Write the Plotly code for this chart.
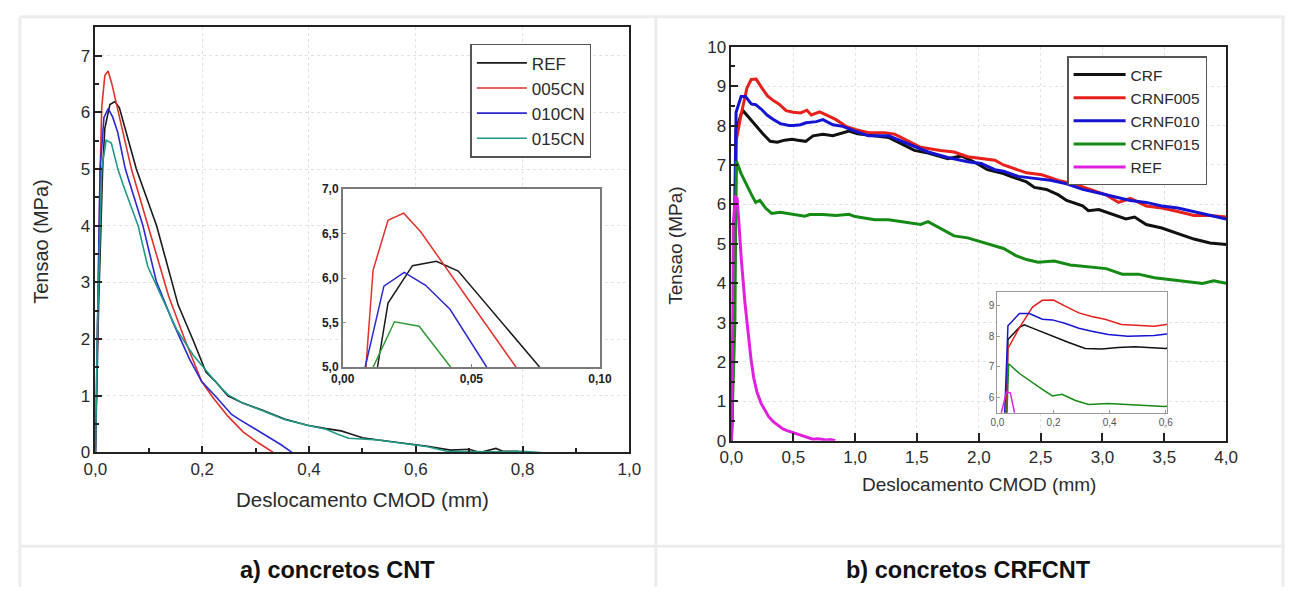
import plotly.graph_objects as go

W, H = 1297, 597

# ---------------- Panel a) concretos CNT ----------------
ref_a_x = [0, 0.006, 0.0135, 0.0176, 0.0271, 0.0364, 0.0449, 0.0766, 0.1146, 0.135, 0.155, 0.183, 0.207,
           0.225, 0.248, 0.276, 0.312, 0.354, 0.397, 0.432, 0.46, 0.474, 0.50, 0.53, 0.587, 0.622, 0.665,
           0.70, 0.72, 0.75, 0.763, 0.79, 0.80]
ref_a_y = [0, 2.6, 5.0, 5.72, 6.14, 6.19, 6.08, 5.0, 4.0, 3.3, 2.6, 1.98, 1.42,
           1.25, 1.0, 0.87, 0.75, 0.59, 0.48, 0.42, 0.38, 0.34, 0.26, 0.22, 0.15, 0.11, 0.04,
           0.055, 0.0, 0.07, 0.02, 0.02, 0.0]

cn005_x = [0, 0.004, 0.009, 0.0118, 0.0176, 0.0237, 0.0303, 0.0674, 0.098, 0.118, 0.137, 0.168, 0.199,
           0.22, 0.248, 0.277, 0.305, 0.333]
cn005_y = [0, 2.4, 5.0, 6.09, 6.65, 6.73, 6.52, 5.0, 4.0, 3.35, 2.76, 1.98, 1.25,
           0.97, 0.64, 0.36, 0.17, 0.0]

cn010_x = [0, 0.004, 0.0087, 0.016, 0.0239, 0.0322, 0.0417, 0.056, 0.089, 0.114, 0.145, 0.176, 0.199,
           0.227, 0.255, 0.27, 0.298, 0.326, 0.347, 0.368]
cn010_y = [0, 2.5, 5.0, 5.91, 6.065, 5.92, 5.65, 5.0, 4.0, 3.02, 2.30, 1.65, 1.25,
           0.97, 0.67, 0.58, 0.42, 0.25, 0.14, 0.0]

cn015_x = [0, 0.004, 0.0118, 0.0201, 0.0297, 0.042, 0.052, 0.08, 0.098, 0.129, 0.152, 0.183, 0.207,
           0.23, 0.248, 0.276, 0.312, 0.354, 0.397, 0.432, 0.454, 0.474, 0.53, 0.587, 0.622, 0.658,
           0.70, 0.75, 0.80, 0.834]
cn015_y = [0, 2.3, 5.0, 5.51, 5.46, 5.0, 4.72, 4.0, 3.28, 2.63, 2.17, 1.72, 1.45,
           1.19, 1.02, 0.87, 0.74, 0.58, 0.48, 0.41, 0.32, 0.25, 0.22, 0.14, 0.10, 0.02,
           0.01, 0.01, 0.02, 0.0]

# ---------------- Panel b) concretos CRFCNT ----------------
crf_x = [0, 0.015, 0.032, 0.0375, 0.0785, 0.096, 0.125, 0.196, 0.254, 0.313, 0.371, 0.43, 0.489, 0.536,
         0.60, 0.66, 0.74, 0.82, 0.90, 0.95, 1.02, 1.16, 1.27, 1.38, 1.48, 1.59, 1.70, 1.75, 1.86, 1.96,
         2.07, 2.2, 2.257, 2.386, 2.45, 2.547, 2.644, 2.71, 2.84, 2.886, 2.97, 3.1, 3.19, 3.26, 3.354,
         3.48, 3.61, 3.74, 3.87, 4.0]
crf_y = [0, 3.0, 5.5, 7.89, 8.29, 8.37, 8.26, 8.0, 7.79, 7.6, 7.58, 7.63, 7.65, 7.63,
         7.6, 7.74, 7.78, 7.74, 7.82, 7.86, 7.79, 7.74, 7.70, 7.53, 7.37, 7.30, 7.21, 7.16, 7.23, 7.08,
         6.88, 6.78, 6.71, 6.57, 6.43, 6.38, 6.24, 6.10, 5.96, 5.84, 5.87, 5.72, 5.63, 5.68, 5.49,
         5.40, 5.26, 5.12, 5.02, 4.98]

crnf005_x = [0, 0.015, 0.032, 0.0375, 0.0785, 0.125, 0.16, 0.2, 0.243, 0.29, 0.336, 0.383, 0.442, 0.5,
             0.559, 0.61, 0.646, 0.713, 0.766, 0.846, 0.926, 1.0, 1.11, 1.24, 1.32, 1.43, 1.53, 1.69,
             1.80, 1.91, 2.02, 2.13, 2.2, 2.257, 2.386, 2.51, 2.644, 2.77, 2.9, 3.03, 3.13, 3.225,
             3.354, 3.48, 3.61, 3.74, 3.87, 4.0]
crnf005_y = [0, 3.0, 5.5, 7.6, 8.28, 8.95, 9.17, 9.18, 8.97, 8.76, 8.64, 8.55, 8.38, 8.34,
             8.32, 8.39, 8.27, 8.35, 8.27, 8.15, 7.98, 7.9, 7.82, 7.82, 7.78, 7.61, 7.45, 7.37,
             7.33, 7.21, 7.16, 7.12, 7.0, 6.94, 6.80, 6.75, 6.61, 6.52, 6.38, 6.24, 6.05, 6.15,
             5.96, 5.91, 5.82, 5.72, 5.72, 5.68]

crnf010_x = [0, 0.012, 0.026, 0.0375, 0.0785, 0.114, 0.16, 0.196, 0.24, 0.29, 0.336, 0.395, 0.465, 0.5,
             0.559, 0.603, 0.686, 0.74, 0.82, 0.9, 1.0, 1.11, 1.27, 1.43, 1.59, 1.75, 1.91, 2.02, 2.13,
             2.2, 2.32, 2.45, 2.58, 2.71, 2.84, 2.97, 3.1, 3.225, 3.354, 3.48, 3.61, 3.74, 3.87, 4.0]
crnf010_y = [0, 3.0, 5.5, 8.34, 8.74, 8.74, 8.55, 8.53, 8.42, 8.26, 8.16, 8.05, 8.0, 8.0,
             8.02, 8.07, 8.1, 8.15, 8.02, 7.98, 7.86, 7.74, 7.74, 7.53, 7.33, 7.19, 7.08, 7.04, 6.88,
             6.84, 6.71, 6.66, 6.61, 6.52, 6.38, 6.29, 6.19, 6.10, 6.05, 5.96, 5.91, 5.82, 5.72, 5.63]

crnf015_x = [0, 0.028, 0.034, 0.04, 0.0785, 0.125, 0.16, 0.196, 0.23, 0.278, 0.325, 0.395, 0.465, 0.547,
             0.594, 0.633, 0.74, 0.846, 0.95, 1.0, 1.16, 1.27, 1.43, 1.53, 1.59, 1.70, 1.80, 1.91, 2.07,
             2.2, 2.3, 2.386, 2.48, 2.61, 2.74, 2.9, 3.03, 3.16, 3.29, 3.42, 3.55, 3.68, 3.81, 3.9, 4.0]
crnf015_y = [0, 3.0, 5.5, 7.1, 6.78, 6.47, 6.26, 6.05, 6.1, 5.9, 5.77, 5.80, 5.76, 5.72,
             5.70, 5.74, 5.74, 5.72, 5.75, 5.69, 5.61, 5.61, 5.53, 5.49, 5.56, 5.37, 5.20, 5.15, 5.0,
             4.88, 4.70, 4.60, 4.53, 4.56, 4.46, 4.42, 4.37, 4.23, 4.23, 4.14, 4.09, 4.04, 3.99, 4.06, 4.0]

refb_x = [0, 0.01, 0.014, 0.032, 0.046, 0.061, 0.08, 0.11, 0.135, 0.158, 0.18, 0.207, 0.24, 0.27, 0.30,
          0.336, 0.38, 0.416, 0.45, 0.497, 0.54, 0.578, 0.62, 0.659, 0.70, 0.74, 0.77, 0.80, 0.84]
refb_y = [0, 4.0, 5.5, 6.18, 6.15, 5.5, 4.6, 3.48, 2.7, 2.08, 1.6, 1.23, 0.95, 0.77, 0.62,
          0.49, 0.38, 0.30, 0.26, 0.21, 0.17, 0.11, 0.08, 0.04, 0.05, 0.03, 0.02, 0.03, 0.0]

FONT = "Liberation Sans, Arial, sans-serif"
TXT = "#2a2a2a"


def px_x(p):
    return p / W


def px_y(p):
    return 1 - p / H


fig = go.Figure()

# ---- panel a main ----
series_a = [
    ("REF", ref_a_x, ref_a_y, "#1a1a1a", "#1a1a1a"),
    ("005CN", cn005_x, cn005_y, "#e2302b", "#e2302b"),
    ("010CN", cn010_x, cn010_y, "#2a2ad0", "#2a2ad0"),
    ("015CN", cn015_x, cn015_y, "#1f9a86", "#2f9a36"),
]
for name, xs, ys, col, icol in series_a:
    fig.add_trace(go.Scatter(x=xs, y=ys, name=name, mode="lines", line=dict(color=col, width=1.6),
                             xaxis="x", yaxis="y", legend="legend", hoverinfo="skip"))
for name, xs, ys, col, icol in series_a:
    fig.add_trace(go.Scatter(x=xs, y=ys, name=name, mode="lines", line=dict(color=icol, width=1.5),
                             xaxis="x2", yaxis="y2", showlegend=False, hoverinfo="skip"))

# ---- panel b main ----
series_b = [
    ("CRF", crf_x, crf_y, "#111111"),
    ("CRNF005", crnf005_x, crnf005_y, "#e8201c"),
    ("CRNF010", crnf010_x, crnf010_y, "#1414d2"),
    ("CRNF015", crnf015_x, crnf015_y, "#158a15"),
    ("REF", refb_x, refb_y, "#e020e0"),
]
for name, xs, ys, col in series_b:
    fig.add_trace(go.Scatter(x=xs, y=ys, name=name, mode="lines", line=dict(color=col, width=3),
                             xaxis="x3", yaxis="y3", legend="legend2", hoverinfo="skip"))
for name, xs, ys, col in series_b:
    fig.add_trace(go.Scatter(x=xs, y=ys, name=name, mode="lines", line=dict(color=col, width=1.5),
                             xaxis="x4", yaxis="y4", showlegend=False, hoverinfo="skip"))

grid = dict(showgrid=True, gridcolor="#e2e2e2", griddash="dot", gridwidth=1, zeroline=False)
frame = dict(showline=True, mirror=True, linecolor="#222222", linewidth=1.8)

fig.update_layout(
    width=W, height=H, autosize=False,
    margin=dict(l=0, r=0, t=0, b=0),
    paper_bgcolor="white", plot_bgcolor="white",
    separators=",.",
    font=dict(family=FONT, color=TXT),
    xaxis=dict(domain=[px_x(85), px_x(629)], range=[0, 1.0], dtick=0.2, tickformat=".1f",
               ticks="inside", ticklen=7, tickwidth=1.5, tickcolor="#222",
               minor=dict(dtick=0.1, ticks="inside", ticklen=5, tickcolor="#222", showgrid=False),
               tickfont=dict(size=17, color=TXT), anchor="y", **grid, **frame),
    yaxis=dict(domain=[px_y(458), px_y(19)], range=[0, 7.5], dtick=1,
               ticks="inside", ticklen=7, tickwidth=1.5, tickcolor="#222",
               minor=dict(dtick=0.5, ticks="inside", ticklen=4, tickcolor="#222", showgrid=False),
               tickfont=dict(size=17, color=TXT), anchor="x", **grid, **frame),
    xaxis2=dict(domain=[px_x(337), px_x(599)], range=[0, 0.1], dtick=0.05, tickformat=".2f",
                ticks="inside", ticklen=3, tickcolor="#888",
                tickfont=dict(size=12, color="#222", weight="bold"), anchor="y2",
                showgrid=False, zeroline=False, showline=True, mirror=True, linecolor="#7a7a7a", linewidth=1.5),
    yaxis2=dict(domain=[px_y(370), px_y(186)], range=[5.0, 7.0], dtick=0.5, tickformat=".1f",
                ticks="inside", ticklen=3, tickcolor="#888",
                tickfont=dict(size=12, color="#222", weight="bold"), anchor="x2",
                showgrid=False, zeroline=False, showline=True, mirror=True, linecolor="#7a7a7a", linewidth=1.5),
    xaxis3=dict(domain=[px_x(733), px_x(1237)], range=[0, 4.0], dtick=0.5, tickformat=".1f",
                ticks="inside", ticklen=8, tickwidth=1.8, tickcolor="#222",
                tickfont=dict(size=17, color=TXT), anchor="y3", **grid, **frame),
    yaxis3=dict(domain=[px_y(446), px_y(39)], range=[0, 10], dtick=1,
                ticks="inside", ticklen=7, tickwidth=1.5, tickcolor="#222",
                minor=dict(dtick=0.5, ticks="inside", ticklen=4, tickcolor="#222", showgrid=False),
                tickfont=dict(size=17, color=TXT), anchor="x3", **grid, **frame),
    xaxis4=dict(domain=[px_x(1004), px_x(1177)], range=[0, 0.605], dtick=0.2, tickformat=".1f",
                ticks="inside", ticklen=3, tickcolor="#999",
                tickfont=dict(size=10, color="#555"), anchor="y4",
                showgrid=False, zeroline=False, showline=True, mirror=True, linecolor="#999999", linewidth=1),
    yaxis4=dict(domain=[px_y(417), px_y(292)], range=[5.5, 9.45], dtick=1,
                ticks="inside", ticklen=3, tickcolor="#999",
                tickfont=dict(size=10, color="#555"), anchor="x4",
                showgrid=False, zeroline=False, showline=True, mirror=True, linecolor="#999999", linewidth=1),
    legend=dict(x=px_x(467), y=px_y(36), xanchor="left", yanchor="top",
                bgcolor="white", bordercolor="#555555", borderwidth=1.5,
                font=dict(size=17, color=TXT), tracegroupgap=0, itemwidth=50),
    legend2=dict(x=px_x(1075), y=px_y(49), xanchor="left", yanchor="top",
                 bgcolor="white", bordercolor="#555555", borderwidth=1.5,
                 font=dict(size=15.5, color=TXT), tracegroupgap=0, itemwidth=52),
)

# Axis titles and captions
ann = [
    ("Tensao (MPa)", 30, 240, -90, 20, TXT),
    ("Deslocamento CMOD (mm)", 357, 507, 0, 20.5, TXT),
    ("Tensao (MPa)", 676, 244, -90, 19, TXT),
    ("Deslocamento CMOD (mm)", 985, 491, 0, 19, TXT),
    ("<b>a) concretos CNT</b>", 332, 579, 0, 23.5, "#111"),
    ("<b>b) concretos CRFCNT</b>", 975, 579, 0, 23.5, "#111"),
]
for text, ax, ay, ang, size, col in ann:
    fig.add_annotation(xref="paper", yref="paper", showarrow=False, xanchor="center", yanchor="middle",
                       font=dict(family=FONT, color=col, size=size),
                       text=text, x=px_x(ax), y=px_y(ay), textangle=ang)

# Table-like light gray borders
border = dict(color="#ececec", width=3)
fig.add_shape(type="line", xref="paper", yref="paper", x0=px_x(8), x1=1, y0=px_y(8), y1=px_y(8), line=border)
fig.add_shape(type="line", xref="paper", yref="paper", x0=px_x(8), x1=px_x(8), y0=0, y1=px_y(8), line=border)
fig.add_shape(type="line", xref="paper", yref="paper", x0=px_x(8), x1=1, y0=px_y(555), y1=px_y(555), line=border)
fig.add_shape(type="line", xref="paper", yref="paper", x0=px_x(656), x1=px_x(656), y0=0, y1=px_y(8), line=border)
fig.add_shape(type="line", xref="paper", yref="paper", x0=px_x(1295), x1=px_x(1295), y0=0, y1=px_y(8), line=border)

fig.write_html("out.html", config={"displayModeBar": False},
               post_script="document.body.style.margin='0';document.body.style.overflow='hidden';")
